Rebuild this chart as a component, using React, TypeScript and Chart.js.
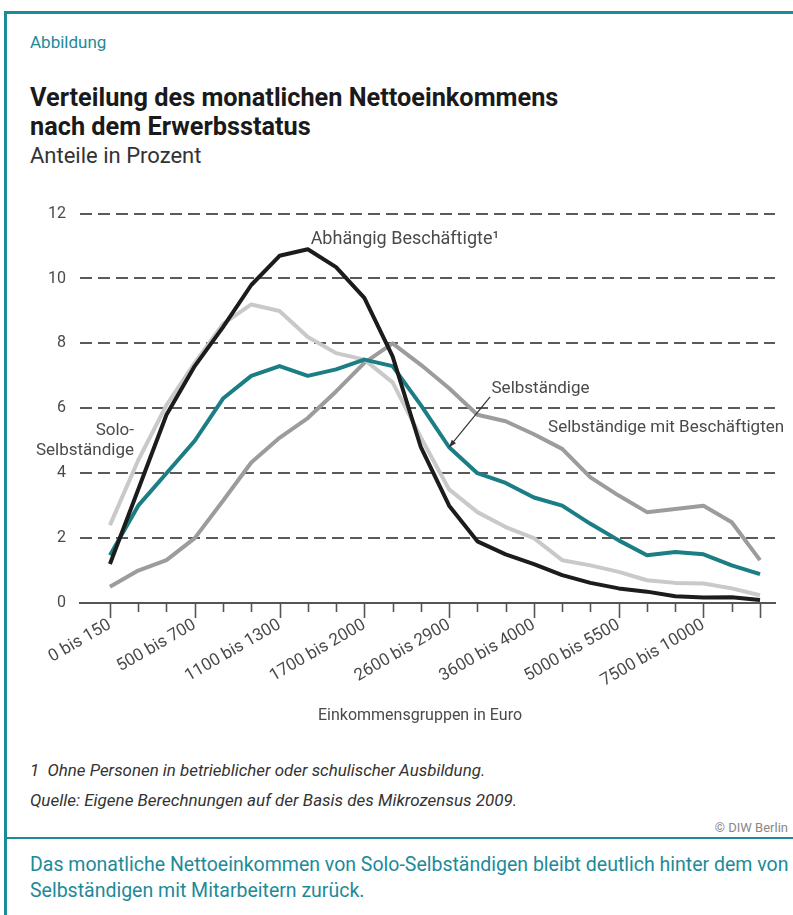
import React, { useEffect, useRef } from "react";
import { Chart, registerables } from "chart.js";

Chart.register(...registerables);

const categories = [
  "0 bis 150", "150 bis 300", "300 bis 500", "500 bis 700", "700 bis 900", "900 bis 1100",
  "1100 bis 1300", "1300 bis 1500", "1500 bis 1700", "1700 bis 2000", "2000 bis 2300", "2300 bis 2600",
  "2600 bis 2900", "2900 bis 3200", "3200 bis 3600", "3600 bis 4000", "4000 bis 4500", "4500 bis 5000",
  "5000 bis 5500", "5500 bis 6000", "6000 bis 7500", "7500 bis 10000", "10000 bis 18000", "18000 und mehr",
];
const labelledIndices = [0, 3, 6, 9, 12, 15, 18, 21];

const abhaengigBeschaeftigte = [1.2, 3.5, 5.8, 7.3, 8.5, 9.8, 10.7, 10.9, 10.35, 9.4, 7.6, 4.8, 3.0, 1.9, 1.5, 1.2, 0.86, 0.62, 0.45, 0.35, 0.21, 0.17, 0.18, 0.09];
const soloSelbstaendige = [2.4, 4.4, 6.1, 7.4, 8.6, 9.2, 9.0, 8.2, 7.7, 7.5, 6.8, 5.1, 3.5, 2.8, 2.34, 2.0, 1.32, 1.16, 0.96, 0.7, 0.62, 0.6, 0.45, 0.24];
const selbstaendige = [1.47, 3.0, 4.0, 5.0, 6.3, 7.0, 7.3, 7.0, 7.2, 7.5, 7.3, 6.1, 4.8, 4.0, 3.7, 3.25, 3.0, 2.44, 1.93, 1.47, 1.57, 1.5, 1.16, 0.89];
const mitBeschaeftigten = [0.5, 1.0, 1.32, 2.0, 3.15, 4.33, 5.09, 5.7, 6.52, 7.4, 8.0, 7.34, 6.62, 5.8, 5.6, 5.2, 4.75, 3.87, 3.31, 2.8, 2.9, 3.0, 2.49, 1.32];
const yTickValues = [0, 2, 4, 6, 8, 10, 12];
const xAxisTitle = "Einkommensgruppen in Euro";

const TEAL = "#1d8a9a";
const LINE_TEAL = "#1b7e84";
const TEXT_GRAY = "#4a4a4a";
const FONT = "Roboto, 'Noto Sans', sans-serif";

const toPoints = (arr: number[]) => arr.map((v, i) => ({ x: i, y: v }));

const tickMarksPlugin = {
  id: "tickMarks",
  afterDraw(chart: any) {
    const { ctx, chartArea } = chart;
    const xs = chart.scales.x;
    ctx.save();
    ctx.strokeStyle = "#555";
    ctx.lineWidth = 1.6;
    categories.forEach((_, i) => {
      const px = Math.round(xs.getPixelForValue(i)) + 0.5;
      const major = labelledIndices.includes(i) || i === categories.length - 1;
      ctx.beginPath();
      ctx.moveTo(px, chartArea.bottom);
      ctx.lineTo(px, chartArea.bottom + (major ? 15 : 9));
      ctx.stroke();
    });
    // x axis title
    ctx.fillStyle = TEXT_GRAY;
    ctx.font = `16px ${FONT}`;
    ctx.textAlign = "center";
    ctx.textBaseline = "middle";
    ctx.fillText(xAxisTitle, xs.getPixelForValue(10.97), chartArea.bottom + 113);
    ctx.restore();
  },
};

const annotationPlugin = {
  id: "annotations",
  afterDatasetsDraw(chart: any) {
    const { ctx } = chart;
    const xs = chart.scales.x;
    const ys = chart.scales.y;
    ctx.save();
    ctx.fillStyle = TEXT_GRAY;
    ctx.textBaseline = "middle";
    // Abhängig Beschäftigte
    ctx.font = `18px ${FONT}`;
    ctx.textAlign = "left";
    ctx.fillText("Abhängig Beschäftigte¹", xs.getPixelForValue(7.1), ys.getPixelForValue(11.2));
    ctx.font = `17px ${FONT}`;
    // Solo-Selbständige
    ctx.textAlign = "right";
    ctx.fillText("Solo-", xs.getPixelForValue(0.85), ys.getPixelForValue(5.3));
    ctx.fillText("Selbständige", xs.getPixelForValue(0.85), ys.getPixelForValue(4.7));
    // Selbständige
    ctx.textAlign = "left";
    ctx.fillText("Selbständige", xs.getPixelForValue(13.5), ys.getPixelForValue(6.6));
    // Selbständige mit Beschäftigten
    ctx.fillText("Selbständige mit Beschäftigten", xs.getPixelForValue(15.5), ys.getPixelForValue(5.4));
    // Arrow
    const x1 = xs.getPixelForValue(13.45), y1 = ys.getPixelForValue(6.35);
    const x2 = xs.getPixelForValue(12.0), y2 = ys.getPixelForValue(4.8);
    ctx.strokeStyle = "#333";
    ctx.lineWidth = 1.2;
    ctx.beginPath();
    ctx.moveTo(x1, y1);
    ctx.lineTo(x2, y2);
    ctx.stroke();
    const ang = Math.atan2(y2 - y1, x2 - x1);
    const hl = 8;
    ctx.fillStyle = "#333";
    ctx.beginPath();
    ctx.moveTo(x2, y2);
    ctx.lineTo(x2 - hl * Math.cos(ang - 0.35), y2 - hl * Math.sin(ang - 0.35));
    ctx.lineTo(x2 - hl * Math.cos(ang + 0.35), y2 - hl * Math.sin(ang + 0.35));
    ctx.closePath();
    ctx.fill();
    ctx.restore();
  },
};

function ChartCanvas() {
  const ref = useRef<HTMLCanvasElement | null>(null);
  useEffect(() => {
    if (!ref.current) return;
    const lineDs = (label: string, data: number[], color: string, order: number) => ({
      label,
      data: toPoints(data),
      borderColor: color,
      backgroundColor: color,
      borderWidth: 4,
      pointRadius: 0,
      tension: 0,
      borderJoinStyle: "round" as const,
      order,
    });
    const chart = new Chart(ref.current, {
      type: "line",
      data: {
        datasets: [
          lineDs("Abhängig Beschäftigte", abhaengigBeschaeftigte, "#1c1c1c", 0),
          lineDs("Selbständige", selbstaendige, LINE_TEAL, 1),
          lineDs("Solo-Selbständige", soloSelbstaendige, "#c9c9c9", 2),
          lineDs("Selbständige mit Beschäftigten", mitBeschaeftigten, "#9c9c9c", 3),
        ],
      },
      options: {
        animation: false,
        responsive: false,
        maintainAspectRatio: false,
        events: [],
        layout: { padding: { left: 0, right: 18, top: 21, bottom: 0 } },
        plugins: {
          legend: { display: false },
          tooltip: { enabled: false },
        },
        scales: {
          x: {
            type: "linear",
            min: -1.06,
            max: 23.53,
            afterBuildTicks: (scale: any) => {
              scale.ticks = categories.map((_, i) => ({ value: i }));
            },
            afterFit: (scale: any) => {
              scale.height = 125;
            },
            grid: { display: false, drawTicks: false },
            border: { display: true, color: "#555", width: 2 },
            ticks: {
              autoSkip: false,
              minRotation: 30,
              maxRotation: 30,
              padding: 12,
              color: TEXT_GRAY,
              font: { family: FONT, size: 17 },
              callback: (v: any) => (labelledIndices.includes(v) ? categories[v] : ""),
            },
            title: { display: false },
          },
          y: {
            min: 0,
            max: 12,
            afterBuildTicks: (scale: any) => {
              scale.ticks = yTickValues.map((v) => ({ value: v }));
            },
            afterFit: (scale: any) => {
              scale.width = 80;
            },
            grid: {
              drawTicks: false,
              color: (c: any) => (c.tick && c.tick.value === 0 ? "rgba(0,0,0,0)" : "#5a5a5a"),
              lineWidth: 2,
            },
            border: { display: false, dash: [12, 6] },
            ticks: {
              padding: 14,
              color: TEXT_GRAY,
              font: { family: FONT, size: 16 },
            },
          },
        },
      },
      plugins: [tickMarksPlugin, annotationPlugin],
    });
    return () => chart.destroy();
  }, []);
  return <canvas ref={ref} width={793} height={538} style={{ position: "absolute", left: 0, top: 190, width: 793, height: 538 }} />;
}

export default function App() {
  const abs = (s: React.CSSProperties): React.CSSProperties => ({ position: "absolute", whiteSpace: "nowrap", ...s });
  return (
    <div style={{ position: "absolute", left: 0, top: 0, width: 793, height: 915, background: "#fff", overflow: "hidden", fontFamily: FONT }}>
      <div style={abs({ left: 4, top: 11, width: 789, height: 3, background: TEAL })} />
      <div style={abs({ left: 4, top: 11, width: 3, height: 904, background: TEAL })} />
      <div style={abs({ left: 30, top: 31, fontSize: 17, lineHeight: "22px", color: TEAL })}>Abbildung</div>
      <div style={abs({ left: 30, top: 83, fontSize: 25.3, lineHeight: "29px", fontWeight: 700, color: "#1a1a1a" })}>
        Verteilung des monatlichen Nettoeinkommens
        <br />
        nach dem Erwerbsstatus
      </div>
      <div style={abs({ left: 30, top: 143, fontSize: 22, lineHeight: "26px", color: "#333" })}>Anteile in Prozent</div>
      <ChartCanvas />
      <div style={abs({ left: 30, top: 760, fontSize: 16.9, lineHeight: "20px", fontStyle: "italic", color: "#333" })}>
        1&nbsp;&nbsp;Ohne Personen in betrieblicher oder schulischer Ausbildung.
      </div>
      <div style={abs({ left: 30, top: 790, fontSize: 17, lineHeight: "20px", fontStyle: "italic", color: "#333" })}>
        Quelle: Eigene Berechnungen auf der Basis des Mikrozensus 2009.
      </div>
      <div style={abs({ right: 5, top: 820, fontSize: 13, lineHeight: "16px", color: "#888" })}>© DIW Berlin</div>
      <div style={abs({ left: 4, top: 837, width: 789, height: 2, background: TEAL })} />
      <div style={abs({ left: 30, top: 852, fontSize: 19.5, lineHeight: "26px", color: TEAL })}>
        Das monatliche Nettoeinkommen von Solo-Selbständigen bleibt deutlich hinter dem von
        <br />
        Selbständigen mit Mitarbeitern zurück.
      </div>
    </div>
  );
}
